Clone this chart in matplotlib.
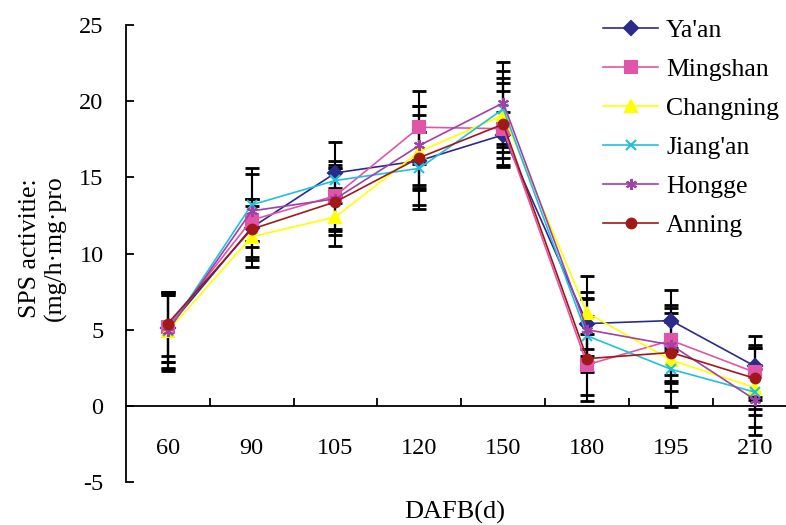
import matplotlib
matplotlib.use("Agg")
import matplotlib.pyplot as plt
import numpy as np

plt.rcParams['font.family'] = ['Liberation Serif', 'DejaVu Serif']
plt.rcParams['axes.unicode_minus'] = False

categories = ["60", "90", "105", "120", "150", "180", "195", "210"]
series_names = ["Ya'an", "Mingshan", "Changning", "Jiang'an", "Hongge", "Anning"]

yaan      = [5.1, 11.7, 15.3, 16.1, 17.8, 5.4, 5.6, 2.6]
mingshan  = [5.2, 12.2, 13.8, 18.3, 18.2, 2.7, 4.3, 2.2]
changning = [4.9, 11.1, 12.4, 16.7, 19.1, 6.1, 3.0, 1.2]
jiangan   = [4.9, 13.2, 14.8, 15.6, 19.5, 4.6, 2.4, 0.9]
hongge    = [4.9, 12.8, 13.6, 17.1, 19.9, 5.0, 4.0, 0.4]
anning    = [5.4, 11.6, 13.4, 16.3, 18.5, 3.1, 3.5, 1.8]

yaan_err      = [2.2, 1.9, 2.0, 1.9, 1.5, 2.1, 2.0, 2.0]
mingshan_err  = [2.3, 1.4, 2.3, 2.4, 2.5, 2.0, 2.3, 1.8]
changning_err = [2.4, 2.0, 1.9, 2.4, 2.4, 2.4, 3.1, 2.6]
jiangan_err   = [2.6, 2.4, 1.0, 2.4, 2.5, 2.4, 1.4, 1.5]
hongge_err    = [2.5, 2.4, 2.0, 2.6, 2.7, 2.1, 2.4, 2.3]
anning_err    = [2.1, 2.0, 2.2, 3.4, 2.7, 2.8, 2.0, 2.0]

values = [yaan, mingshan, changning, jiangan, hongge, anning]
errors = [yaan_err, mingshan_err, changning_err, jiangan_err, hongge_err, anning_err]
colors = ["#2B2B8A", "#E055A8", "#FFFF00", "#20C0E0", "#A040A8", "#A01818"]
markers = ["D", "s", "^", "x", (6, 2, 0), "o"]
msizes = [7, 8, 9, 7, 8, 7]

fig = plt.figure(figsize=(7.86, 5.25), dpi=100)
ax = fig.add_axes([0.16, 0.082, 0.84, 0.87])

x = np.arange(len(categories))
for name, v, e, c, m, ms in zip(series_names, values, errors, colors, markers, msizes):
    ax.errorbar(x, v, yerr=e, fmt='none', ecolor='black', elinewidth=1.5,
                capsize=5, capthick=2, zorder=3)
for name, v, e, c, m, ms in zip(series_names, values, errors, colors, markers, msizes):
    ax.plot(x, v, color=c, marker=m, markersize=ms, linewidth=1.2,
            markeredgecolor=c, markeredgewidth=1.5, label=name, zorder=4)

ax.set_xlim(-0.5, 7.37)
ax.set_ylim(-5, 25)
ax.set_yticks([-5, 0, 5, 10, 15, 20, 25])

ax.spines['top'].set_visible(False)
ax.spines['right'].set_visible(False)
ax.spines['bottom'].set_position(('data', 0))
ax.spines['bottom'].set_linewidth(1.3)
ax.spines['left'].set_linewidth(1.3)

ax.set_xticks(np.arange(0.5, 7.5, 1.0))
ax.set_xticklabels([])
ax.set_xticks(x, minor=True)
ax.set_xticklabels(categories, minor=True)
ax.tick_params(axis='x', which='major', direction='in', length=6, width=1.3)
ax.tick_params(axis='x', which='minor', length=0, pad=23, labelsize=17.5)
ax.tick_params(axis='y', direction='in', length=6, width=1.3, pad=16, labelsize=17.5)

fig.text(0.038, 0.527, "SPS activitie:", rotation=90, ha='center', va='center', fontsize=18.5)
fig.text(0.071, 0.527, "(mg/h\u00b7mg\u00b7pro", rotation=90, ha='center', va='center', fontsize=18.5)
fig.text(0.579, 0.024, "DAFB(d)", ha='center', va='center', fontsize=19)

leg = ax.legend(loc='upper left', bbox_to_anchor=(0.723, 1.013), frameon=False,
                fontsize=18.5, handlelength=2.15, labelspacing=0.62, handletextpad=0.3,
                borderaxespad=0, borderpad=0)

fig.savefig("out.png", dpi=100)
